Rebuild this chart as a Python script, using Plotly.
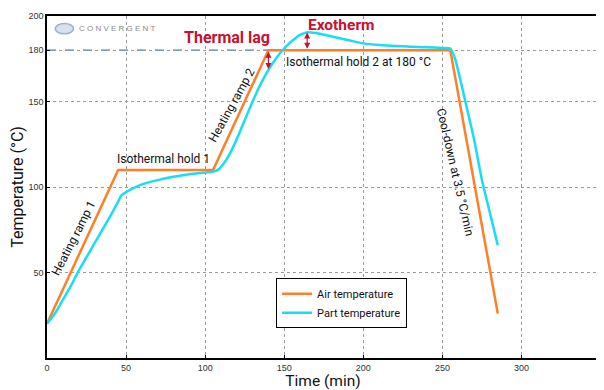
import plotly.graph_objects as go

# ---- data ----
air_time = [0, 45, 105, 140, 255, 285]
air_temp = [20, 110, 110, 180, 180, 26]

part_time = [0, 5, 10, 15, 20, 25, 30, 35, 40, 45, 47, 50, 55, 60, 70, 80, 90, 100, 105,
             108, 112, 115, 120, 125, 130, 135, 140, 145, 150, 155, 160, 165, 170, 180, 190,
             200, 210, 220, 230, 240, 250, 255, 258, 262, 266, 270, 275, 280, 285]
part_temp = [20, 26, 34, 42, 51, 59, 67, 75, 83, 91.5, 95, 97, 99.5, 101.5, 104, 106, 107.5, 108.5, 109,
             110, 114, 118.5, 128, 139, 150, 160, 168.5, 175.5, 181, 185.5, 189, 190.5, 190, 188, 186,
             184, 183, 182.5, 182, 181.7, 181.3, 181, 175, 160, 144, 128, 104, 85, 66]

x_ticks = [0, 50, 100, 150, 200, 250, 300]
y_ticks = [50, 100, 150, 180, 200]

ORANGE = "#FF7F27"
CYAN = "#17DDF5"
RED = "#C8102E"
NARROW = "Roboto, sans-serif"

fig = go.Figure()
fig.add_trace(go.Scatter(x=air_time, y=air_temp, mode="lines", name="Air temperature",
                         line=dict(color=ORANGE, width=2.5)))
fig.add_trace(go.Scatter(x=part_time, y=part_temp, mode="lines", name="Part temperature",
                         line=dict(color=CYAN, width=2.5, shape="spline", smoothing=0.6)))

# dashed 180 reference line
fig.add_shape(type="line", x0=0, x1=140, y0=180, y1=180, xref="x", yref="y",
              line=dict(color="#3C7FB6", width=1.2, dash="dash"), layer="below")

# logo swoosh + name
fig.add_shape(type="circle", xref="paper", yref="paper", x0=0.015, x1=0.048, y0=0.948, y1=0.978,
              line=dict(color="#9AAED6", width=1.5), fillcolor="rgba(170,188,220,0.45)")
fig.add_annotation(x=0.055, y=0.963, xref="paper", yref="paper", xanchor="left", yanchor="middle",
                   text="C O N V E R G E N T", showarrow=False,
                   font=dict(family="Liberation Sans, sans-serif", size=8, color="#8A8A8A"))

ann_font = dict(family=NARROW, size=12, color="#111")
fig.add_annotation(x=114, y=187.2, text="<b>Thermal lag</b>", showarrow=False,
                   font=dict(family=NARROW, size=16, color=RED))
fig.add_annotation(x=186, y=194.8, text="<b>Exotherm</b>", showarrow=False,
                   font=dict(family=NARROW, size=15.5, color=RED))
fig.add_annotation(x=197, y=172.9, text="Isothermal hold 2 at 180 °C", showarrow=False, font=ann_font)
fig.add_annotation(x=73.6, y=116.2, text="Isothermal hold 1", showarrow=False, font=ann_font)
fig.add_annotation(x=17, y=70, text="Heating ramp 1", showarrow=False, textangle=-63, font=ann_font)
fig.add_annotation(x=117, y=147.7, text="Heating ramp 2", showarrow=False, textangle=-61, font=ann_font)
fig.add_annotation(x=258, y=108.7, text="Cool-down at 3.5 °C/min", showarrow=False, textangle=77,
                   font=ann_font)

# red double arrows
for xa, y_from, y_to in [(140, 180, 169), (164.5, 180, 190.3)]:
    fig.add_annotation(x=xa, y=y_to, ax=xa, ay=y_from, xref="x", yref="y", axref="x", ayref="y",
                       text="", showarrow=True, arrowhead=2, startarrowhead=2, arrowside="end+start",
                       arrowsize=1, startarrowsize=1, arrowwidth=1.2, arrowcolor=RED)

axis_common = dict(showline=True, linecolor="black", linewidth=1.5, mirror=True,
                   showgrid=True, gridcolor="#9A9A9A", griddash="dot", gridwidth=1,
                   ticks="inside", ticklen=3, tickcolor="black", zeroline=False,
                   tickfont=dict(family="Liberation Sans, sans-serif", size=9, color="#333"))

fig.update_xaxes(range=[0, 349], tickvals=x_ticks, **axis_common,
                 title=dict(text="Time (min)", font=dict(family=NARROW, size=15.5, color="#111"), standoff=4))
fig.update_yaxes(range=[0, 200], tickvals=y_ticks, **axis_common,
                 title=dict(text="Temperature (°C)", font=dict(family=NARROW, size=16, color="#111"), standoff=6))

# page body has an 8px margin: size the figure so the plot area lands where the reference has it
fig.update_layout(
    width=596, height=382,
    margin=dict(l=37, r=3, t=3, b=31),
    plot_bgcolor="white", paper_bgcolor="white",
    legend=dict(x=0.415, y=0.233, xanchor="left", yanchor="top",
                bordercolor="black", borderwidth=1, bgcolor="white",
                font=dict(family=NARROW, size=11, color="#111"),
                tracegroupgap=0, itemwidth=30),
    showlegend=True,
)

fig.write_html("out.html")
